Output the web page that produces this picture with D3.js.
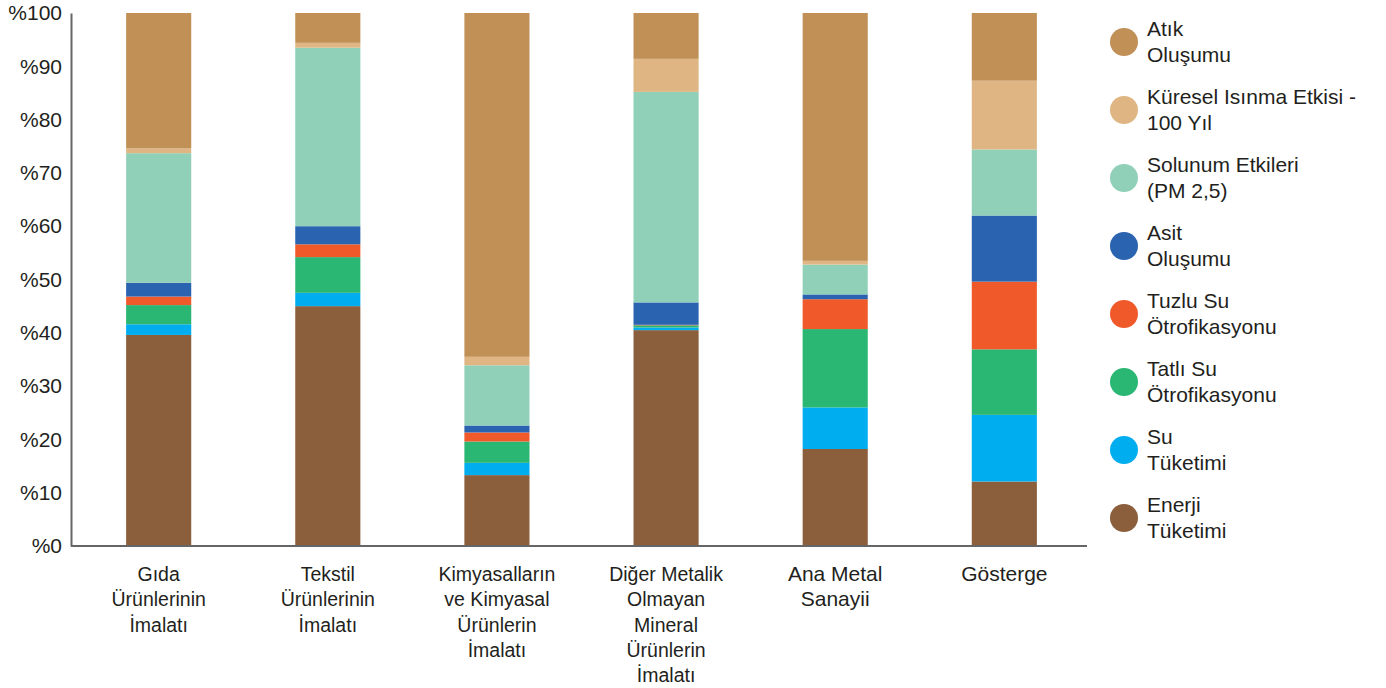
<!DOCTYPE html>
<html lang="tr">
<head>
<meta charset="utf-8">
<script src="https://cdn.jsdelivr.net/npm/d3@7"></script>
<style>
  html, body { margin: 0; padding: 0; background: #fff; }
  main { width: 1386px; height: 688px; }
  text { font-family: "Liberation Sans", Arial, sans-serif; fill: #231f20; }
</style>
</head>
<body>
<main></main>
<script>
// categories (one line per array entry)
const categories = [
  ["Gıda", "Ürünlerinin", "İmalatı"],
  ["Tekstil", "Ürünlerinin", "İmalatı"],
  ["Kimyasalların", "ve Kimyasal", "Ürünlerin", "İmalatı"],
  ["Diğer Metalik", "Olmayan", "Mineral", "Ürünlerin", "İmalatı"],
  ["Ana Metal", "Sanayii"],
  ["Gösterge"],
];

// series values (%), bottom to top
const enerji = [39.6, 45.0, 13.3, 40.5, 18.2, 12.1];
const su = [2.0, 2.5, 2.3, 0.5, 7.8, 12.5];
const tatliSu = [3.6, 6.7, 4.0, 0.4, 14.7, 12.3];
const tuzluSu = [1.6, 2.4, 1.7, 0.1, 5.6, 12.7];
const asit = [2.6, 3.4, 1.3, 4.2, 0.9, 12.4];
const solunum = [24.3, 33.5, 11.3, 39.5, 5.6, 12.4];
const kuresel = [0.9, 0.9, 1.6, 6.2, 0.7, 12.9];
const atik = [25.4, 5.6, 64.5, 8.6, 46.5, 12.7];

const yTicks = [0, 10, 20, 30, 40, 50, 60, 70, 80, 90, 100];

const series = [
  { key: "enerji", label: ["Enerji", "Tüketimi"], values: enerji, color: "#8b5e3c" },
  { key: "su", label: ["Su", "Tüketimi"], values: su, color: "#00adef" },
  { key: "tatli", label: ["Tatlı Su", "Ötrofikasyonu"], values: tatliSu, color: "#2ab673" },
  { key: "tuzlu", label: ["Tuzlu Su", "Ötrofikasyonu"], values: tuzluSu, color: "#f05a2b" },
  { key: "asit", label: ["Asit", "Oluşumu"], values: asit, color: "#2a63b0" },
  { key: "solunum", label: ["Solunum Etkileri", "(PM 2,5)"], values: solunum, color: "#90d0b8" },
  { key: "kuresel", label: ["Küresel Isınma Etkisi -", "100 Yıl"], values: kuresel, color: "#dfb683" },
  { key: "atik", label: ["Atık", "Oluşumu"], values: atik, color: "#c09057" },
];

const width = 1386;
const height = 688;

const svg = d3
  .select("main")
  .append("svg")
  .attr("width", width)
  .attr("height", height)
  .attr("viewBox", `0 0 ${width} ${height}`);

// table for the stack
const table = categories.map((c, i) => {
  const row = { cat: c.join(" ") };
  series.forEach((s) => (row[s.key] = s.values[i]));
  return row;
});

const stacked = d3.stack().keys(series.map((s) => s.key))(table);

const x = d3
  .scaleBand()
  .domain(table.map((d) => d.cat))
  .range([72, 1091])
  .paddingInner(0.615)
  .paddingOuter(0.32);

const y = d3.scaleLinear().domain([0, 100]).range([546, 13]);

const colorOf = d3
  .scaleOrdinal()
  .domain(series.map((s) => s.key))
  .range(series.map((s) => s.color));

// bars
svg
  .append("g")
  .selectAll("g")
  .data(stacked)
  .enter()
  .append("g")
  .attr("fill", (d) => colorOf(d.key))
  .selectAll("rect")
  .data((d) => d)
  .enter()
  .append("rect")
  .attr("x", (d) => x(d.data.cat))
  .attr("width", x.bandwidth())
  .attr("y", (d) => y(d[1]))
  .attr("height", (d) => y(d[0]) - y(d[1]));

// y axis
const yAxis = svg
  .append("g")
  .attr("transform", "translate(71, 0)")
  .call(
    d3
      .axisLeft(y)
      .tickValues(yTicks)
      .tickSize(0)
      .tickPadding(9)
      .tickFormat((d) => "%" + d)
  );
yAxis.select(".domain").attr("stroke", "#666").attr("stroke-width", 2);
yAxis
  .selectAll("text")
  .attr("font-size", 21)
  .attr("font-family", "'Liberation Sans', Arial, sans-serif")
  .attr("fill", "#231f20");

// x axis (line only, labels below)
const xAxis = svg
  .append("g")
  .attr("transform", "translate(0, 546)")
  .call(d3.axisBottom(x).tickSize(0).tickFormat(""));
xAxis
  .select(".domain")
  .attr("d", "M71,0H1087")
  .attr("stroke", "#666")
  .attr("stroke-width", 2);

const xLabels = svg
  .append("g")
  .selectAll("text")
  .data(categories)
  .enter()
  .append("text")
  .attr("text-anchor", "middle")
  .attr("font-size", (_, i) => (i < 4 ? 19.5 : 21))
  .attr("x", (_, i) => x(table[i].cat) + x.bandwidth() / 2)
  .attr("y", 581);

xLabels
  .selectAll("tspan")
  .data((d) => d)
  .enter()
  .append("tspan")
  .attr("x", function () {
    return d3.select(this.parentNode).attr("x");
  })
  .attr("dy", (_, i) => (i === 0 ? 0 : 25.3))
  .text((d) => d);

// legend, top item first
const legendItems = series.slice().reverse();
const ly = d3
  .scalePoint()
  .domain(legendItems.map((s) => s.key))
  .range([42, 518]);

const legend = svg
  .append("g")
  .selectAll("g")
  .data(legendItems)
  .enter()
  .append("g")
  .attr("transform", (d) => `translate(1124, ${ly(d.key)})`);

legend
  .append("circle")
  .attr("r", 14)
  .attr("fill", (d) => d.color);

legend
  .append("text")
  .attr("font-size", 21)
  .attr("x", 23)
  .attr("y", -6)
  .selectAll("tspan")
  .data((d) => d.label)
  .enter()
  .append("tspan")
  .attr("x", 23)
  .attr("dy", (_, i) => (i === 0 ? 0 : 26))
  .text((d) => d);
</script>
</body>
</html>
